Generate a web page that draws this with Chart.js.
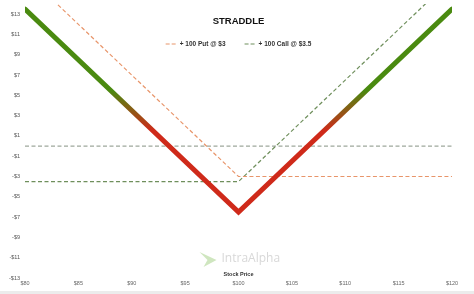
<!DOCTYPE html>
<html>
<head>
<meta charset="utf-8">
<script src="https://cdn.jsdelivr.net/npm/chart.js@4.4.1/dist/chart.umd.min.js"></script>
<style>
  html, body { margin: 0; padding: 0; background: #ececec; }
  #wrap { width: 474px; height: 291px; background: #fff; }
</style>
</head>
<body>
<div id="wrap"><canvas id="myChart" width="474" height="291"></canvas></div>
<script>
// values
const prices = [80, 100, 120];
const straddle = [13.5, -6.5, 13.5];
const putLeg = [17, -3, -3];
const callLeg = [-3.5, -3.5, 16.5];
const zeroPrices = [80, 120];
const zeroLine = [0, 0];
const yTicks = [-13, -11, -9, -7, -5, -3, -1, 1, 3, 5, 7, 9, 11, 13];
const xTicks = [80, 85, 90, 95, 100, 105, 110, 115, 120];
const chartTitle = "STRADDLE";
const xTitle = "Stock Price";

const toPoints = (xs, ys) => xs.map((x, i) => ({ x: x, y: ys[i] }));
const money = (v) => (v < 0 ? "-$" + Math.abs(v) : "$" + v);

const straddleColor = (ctx) => {
  const chart = ctx.chart;
  if (!chart.chartArea) return "#4a8a10";
  const y = chart.scales.y;
  const g = chart.ctx.createLinearGradient(0, y.getPixelForValue(5.5), 0, y.getPixelForValue(1.5));
  g.addColorStop(0, "#4a8a10");
  g.addColorStop(1, "#cf2a1a");
  return g;
};

const overlay = {
  id: "overlay",
  beforeDatasetsDraw(chart) {
    const c = chart.ctx;
    const a = chart.chartArea;
    const cx = (a.left + a.right) / 2;
    c.save();
    // watermark logo + name
    c.fillStyle = "#cfe6bf";
    c.beginPath();
    c.moveTo(cx - 39, a.bottom - 26);
    c.lineTo(cx - 22, a.bottom - 18);
    c.lineTo(cx - 35, a.bottom - 11);
    c.lineTo(cx - 31, a.bottom - 18);
    c.closePath();
    c.fill();
    c.fillStyle = "#d8d8d8";
    c.font = "12px 'Open Sans'";
    c.textBaseline = "middle";
    c.textAlign = "left";
    c.fillText("IntraAlpha", cx - 17, a.bottom - 19);
    // axis title
    c.fillStyle = "#333";
    c.font = "bold 5.5px 'Liberation Sans'";
    c.textAlign = "center";
    c.fillText(xTitle, cx, a.bottom - 4);
    c.restore();
  },
  afterDraw(chart) {
    const c = chart.ctx;
    const a = chart.chartArea;
    const cx = (a.left + a.right) / 2;
    c.save();
    c.fillStyle = "#111";
    c.font = "900 9.5px 'Liberation Sans'";
    c.textAlign = "center";
    c.textBaseline = "middle";
    c.fillText(chartTitle, cx, 21);
    // legend (skip straddle + zero line)
    const items = chart.data.datasets.filter((d) => d.inLegend);
    c.font = "bold 6.5px 'Liberation Sans'";
    const widths = items.map((d) => 14 + c.measureText(d.label).width);
    const gap = 19;
    let x = cx - (widths.reduce((s, w) => s + w, 0) + gap * (items.length - 1)) / 2;
    items.forEach((d, i) => {
      c.strokeStyle = d.borderColor;
      c.lineWidth = 1.2;
      c.setLineDash([4, 2]);
      c.beginPath();
      c.moveTo(x, 44);
      c.lineTo(x + 11, 44);
      c.stroke();
      c.setLineDash([]);
      c.fillStyle = "#333";
      c.textAlign = "left";
      c.fillText(d.label, x + 14, 44.5);
      x += widths[i] + gap;
    });
    c.restore();
  },
};

const config = {
  type: "line",
  data: {
    datasets: [
      {
        label: "Straddle",
        data: toPoints(prices, straddle),
        borderColor: straddleColor,
        borderWidth: 5,
        borderCapStyle: "round",
        borderJoinStyle: "miter",
        pointRadius: 0,
      },
      {
        label: "+ 100 Put @ $3",
        inLegend: true,
        data: toPoints(prices, putLeg),
        borderColor: "#e8956a",
        borderWidth: 1.2,
        borderDash: [4, 2.5],
        pointRadius: 0,
      },
      {
        label: "+ 100 Call @ $3.5",
        inLegend: true,
        data: toPoints(prices, callLeg),
        borderColor: "#6f8f5c",
        borderWidth: 1.2,
        borderDash: [4, 2.5],
        pointRadius: 0,
      },
      {
        label: "Zero",
        data: toPoints(zeroPrices, zeroLine),
        borderColor: "#9ea89c",
        borderWidth: 1.2,
        borderDash: [4, 2.5],
        pointRadius: 0,
      },
    ],
  },
  options: {
    responsive: false,
    animation: false,
    devicePixelRatio: 1,
    layout: { padding: { top: 4, right: 22, left: 0, bottom: 0 } },
    plugins: {
      legend: { display: false },
      title: { display: false },
      tooltip: { enabled: false },
    },
    scales: {
      x: {
        type: "linear",
        min: 80,
        max: 120,
        grid: { display: false, drawTicks: false },
        border: { display: false },
        afterBuildTicks: (s) => { s.ticks = xTicks.map((v) => ({ value: v })); },
        afterFit: (s) => { s.height = 13; },
        ticks: {
          padding: 2,
          color: "#666",
          font: { size: 5.5, family: "'Liberation Sans'" },
          maxRotation: 0,
          callback: (v) => money(v),
        },
      },
      y: {
        min: -13,
        max: 14,
        grid: { display: false, drawTicks: false },
        border: { display: false },
        afterBuildTicks: (s) => { s.ticks = yTicks.map((v) => ({ value: v })); },
        afterFit: (s) => {
          s.width = 25;
          s.paddingTop = 0;
          s.paddingBottom = 0;
        },
        ticks: {
          padding: 5,
          color: "#555",
          font: { size: 5.5, family: "'Liberation Sans'" },
          callback: (v) => money(v),
        },
      },
    },
  },
  plugins: [overlay],
};

myChart = new Chart("myChart", config);
</script>
</body>
</html>
